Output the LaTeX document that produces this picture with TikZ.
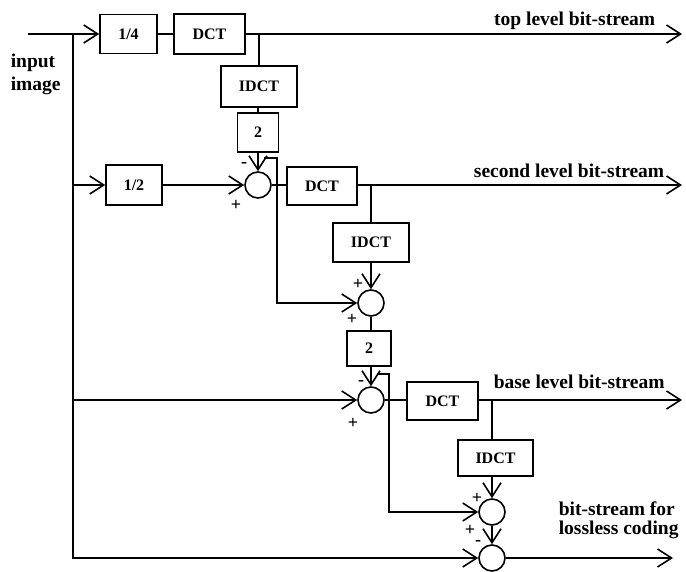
\documentclass[tikz,border=0pt]{standalone}
\usepackage{fontspec}
\setmainfont{Liberation Serif}
\usetikzlibrary{arrows.meta}
\begin{document}
\begin{tikzpicture}[x=1pt,y=-1pt,
  line width=1.6pt,
  >={Straight Barb[length=14pt,width=18pt,line width=1.6pt]},
  blk/.style={draw,line width=1.6pt,inner sep=0pt,font=\fontsize{16}{16}\selectfont\bfseries},
  sumnode/.style={draw,circle,minimum size=26pt,inner sep=0pt},
  lbl/.style={font=\fontsize{19.5}{20}\selectfont\bfseries,inner sep=0pt},
  sgn/.style={font=\fontsize{18}{18}\selectfont\bfseries,inner sep=0pt}]
\useasboundingbox (0,0) rectangle (686,571);
% nodes
\coordinate (in) at (28,34);
\coordinate (j0) at (73,34);
\node[blk,minimum width=57pt,minimum height=39pt] (q4) at (128.5,34) {1/4};
\node[blk,minimum width=71pt,minimum height=40pt] (dct1) at (209.5,34) {DCT};
\coordinate (out1) at (682,34);
\node[blk,minimum width=76pt,minimum height=41pt] (idct1) at (259,86.5) {IDCT};
\node[blk,minimum width=41pt,minimum height=39pt] (u1) at (258,132.5) {2};
\node[sumnode] (s1) at (258,185) {};
\node[blk,minimum width=56pt,minimum height=40pt] (half) at (134,185) {1/2};
\node[blk,minimum width=70pt,minimum height=38pt] (dct2) at (322,186) {DCT};
\coordinate (out2) at (682,185);
\node[blk,minimum width=76pt,minimum height=39pt] (idct2) at (371,242.5) {IDCT};
\node[sumnode] (s2) at (371,303) {};
\node[blk,minimum width=44pt,minimum height=35pt] (u2) at (369,348.5) {2};
\node[sumnode] (s3) at (371,400) {};
\node[blk,minimum width=71pt,minimum height=38pt] (dct3) at (442.5,401) {DCT};
\coordinate (out3) at (682,400);
\node[blk,minimum width=75pt,minimum height=36pt] (idct3) at (495.5,458) {IDCT};
\node[sumnode] (s4) at (492,512) {};
\node[sumnode] (s5) at (492,558) {};
\coordinate (out5) at (673,558);
\coordinate (h1a) at (264,158);
\coordinate (h1b) at (277,158);
\coordinate (h2a) at (377,374);
\coordinate (h2b) at (389,374);
% labels
\node[lbl,anchor=base west] (lin1) at (10,67) {input};
\node[lbl,anchor=base west] (lin2) at (10,90) {image};
\node[lbl,anchor=base east] (l1) at (656,25) {top level bit-stream};
\node[lbl,anchor=base east] (l2) at (665,177) {second level bit-stream};
\node[lbl,anchor=base west] (l3) at (493,388) {base level bit-stream};
\node[lbl,anchor=base west] (l4) at (558,515) {bit-stream for};
\node[lbl,anchor=base west] (l5) at (558,534) {lossless coding};
% signs
\node[sgn] (p1) at (244,165) {-};
\node[sgn] (p2) at (236,205) {+};
\node[sgn] (p3) at (358,284) {+};
\node[sgn] (p4) at (352,319) {+};
\node[sgn] (p5) at (361,383) {-};
\node[sgn] (p6) at (353,423) {+};
\node[sgn] (p7) at (477,498) {+};
\node[sgn] (p8) at (470,530) {+};
\node[sgn] (p9) at (478,543) {-};
% connectors
\draw[->] (in) -- (q4.west);
\draw[->] (j0) |- (s5.west);
\draw (q4.east) -- (dct1.west);
\draw[->] (dct1.east |- out1) -- (out1);
\draw (idct1.north |- out1) -- (idct1.north);
\draw (idct1.south -| u1) -- (u1.north);
\draw[->] (u1.south) -- (s1.north);
\draw[->] (j0 |- half) -- (half.west);
\draw[->] (half.east) -- (s1.west);
\draw (s1.east) -- (dct2.west |- s1);
\draw[->] (dct2.east |- out2) -- (out2);
\draw (idct2.north |- out2) -- (idct2.north);
\draw[->] (idct2.south) -- (s2.north);
\draw[->] (h1a) -- (h1b) -- (h1b |- s2.west) -- (s2.west);
\draw (s2.south) -- (s2.south |- u2.north);
\draw[->] (s3.north |- u2.south) -- (s3.north);
\draw[->] (j0 |- s3) -- (s3.west);
\draw (s3.east) -- (dct3.west |- s3);
\draw[->] (dct3.east |- out3) -- (out3);
\draw (s4.north |- out3) -- (s4.north |- idct3.north);
\draw[->] (s4.north |- idct3.south) -- (s4.north);
\draw[->] (h2a) -- (h2b) -- (h2b |- s4.west) -- (s4.west);
\draw[->] (s4.south) -- (s5.north);
\draw[->] (s5.east) -- (out5);
\end{tikzpicture}
\end{document}
